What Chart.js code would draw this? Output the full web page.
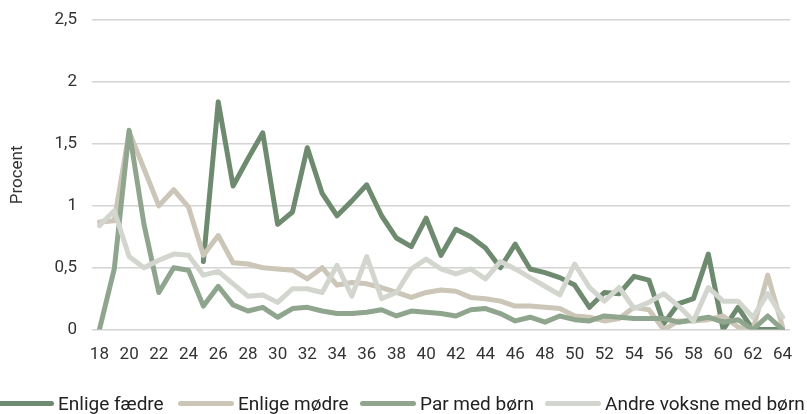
<!DOCTYPE html>
<html>
<head>
<meta charset="utf-8">
<script src="https://cdn.jsdelivr.net/npm/chart.js@4"></script>
<style>
  html, body { margin: 0; padding: 0; background: #fff; overflow: hidden; }
  #wrap { position: relative; width: 807px; height: 414px; overflow: hidden; }
  #chart { position: absolute; left: 0; top: -5px; }
  #legend {
    position: absolute; left: 0; top: 392px; width: 807px; height: 22px;
    font-family: Roboto, "Noto Sans", sans-serif; font-size: 19px; color: #222;
  }
  .item { position: absolute; top: 0; height: 22px; display: flex; align-items: center; white-space: nowrap; }
  .swatch { width: 56px; height: 5px; border-radius: 3px; margin-right: 4px; }
</style>
</head>
<body>
<div id="wrap">
  <canvas id="chart" width="807" height="414"></canvas>
  <div id="legend"></div>
</div>
<script>
const ages = [];
for (let a = 18; a <= 64; a++) ages.push(a);

const seriesNames = ['Enlige fædre', 'Enlige mødre', 'Par med børn', 'Andre voksne med børn'];
const seriesColors = ['#6e8a6f', '#cbc6b8', '#8fa58e', '#d3d6cf'];

// ages 18-64
const enligeFaedre = [null, null, null, null, null, null, null, 0.55, 1.84, 1.16, 1.38, 1.59, 0.85, 0.95,
  1.47, 1.10, 0.92, 1.04, 1.17, 0.92, 0.74, 0.67, 0.90, 0.60, 0.81, 0.75, 0.66, 0.50, 0.69, 0.49,
  0.46, 0.42, 0.36, 0.18, 0.30, 0.29, 0.43, 0.40, 0.05, 0.21, 0.25, 0.61, 0.00, 0.18, 0.00, 0.00, 0.00];
const enligeMoedre = [0.87, 0.88, 1.60, 1.30, 1.00, 1.13, 0.99, 0.60, 0.76, 0.54, 0.53, 0.50, 0.49, 0.48,
  0.41, 0.50, 0.36, 0.38, 0.37, 0.34, 0.30, 0.26, 0.30, 0.32, 0.31, 0.26, 0.25, 0.23, 0.19, 0.19,
  0.18, 0.17, 0.11, 0.10, 0.07, 0.09, 0.18, 0.16, 0.00, 0.07, 0.07, 0.08, 0.11, 0.02, 0.00, 0.44, 0.02];
const parMedBoern = [0.00, 0.49, 1.61, 0.85, 0.30, 0.50, 0.48, 0.19, 0.35, 0.20, 0.15, 0.18, 0.10, 0.17,
  0.18, 0.15, 0.13, 0.13, 0.14, 0.16, 0.11, 0.15, 0.14, 0.13, 0.11, 0.16, 0.17, 0.13, 0.07, 0.10,
  0.06, 0.11, 0.08, 0.07, 0.11, 0.10, 0.09, 0.09, 0.09, 0.06, 0.08, 0.10, 0.06, 0.08, 0.00, 0.11, 0.00];
const andreVoksne = [0.84, 0.96, 0.59, 0.50, 0.56, 0.61, 0.60, 0.44, 0.47, 0.37, 0.27, 0.28, 0.22, 0.33,
  0.33, 0.30, 0.52, 0.27, 0.59, 0.25, 0.30, 0.49, 0.57, 0.49, 0.45, 0.49, 0.41, 0.55, 0.49, 0.42,
  0.35, 0.28, 0.53, 0.34, 0.23, 0.34, 0.17, 0.22, 0.29, 0.19, 0.07, 0.34, 0.23, 0.23, 0.10, 0.29, 0.10];

const yTicks = [0, 0.5, 1, 1.5, 2, 2.5];
const allData = [enligeFaedre, enligeMoedre, parMedBoern, andreVoksne];

const font = { family: 'Roboto, "Noto Sans", sans-serif', size: 17 };

const ctx = document.getElementById('chart').getContext('2d');
new Chart(ctx, {
  type: 'line',
  data: {
    labels: ages,
    datasets: allData.map((d, i) => ({
      label: seriesNames[i],
      data: d,
      borderColor: seriesColors[i],
      backgroundColor: seriesColors[i],
      borderWidth: 5,
      borderJoinStyle: 'round',
      borderCapStyle: 'round',
      pointRadius: 0,
      tension: 0,
      order: allData.length - i
    }))
  },
  options: {
    responsive: false,
    animation: false,
    layout: { padding: { top: 15, right: 17, bottom: 37, left: 0 } },
    plugins: { legend: { display: false }, tooltip: { enabled: false } },
    scales: {
      x: {
        offset: true,
        grid: { display: false },
        border: { display: false },
        ticks: {
          color: '#333', font: font, padding: 7, autoSkip: false, maxRotation: 0,
          callback: (v, i) => ages[i] % 2 === 0 ? String(ages[i]) : null
        }
      },
      y: {
        min: 0, max: 2.5,
        afterFit: s => { s.width = 92; },
        afterBuildTicks: s => { s.ticks = yTicks.map(v => ({ value: v })); },
        grid: { color: '#d4d4d4', lineWidth: 1.5, drawTicks: false },
        border: { display: false },
        ticks: {
          color: '#333', font: font, padding: 15,
          callback: v => String(v).replace('.', ',')
        },
        title: { display: true, text: 'Procent', color: '#333', font: font, padding: { top: 8, bottom: 4 } }
      }
    }
  }
});

// legend items laid out like the original (it runs off both edges)
const legendLeft = [-2, 178, 360, 545];
const legend = document.getElementById('legend');
seriesNames.forEach((name, i) => {
  const item = document.createElement('div');
  item.className = 'item';
  item.style.left = legendLeft[i] + 'px';
  const sw = document.createElement('div');
  sw.className = 'swatch';
  sw.style.background = seriesColors[i];
  const txt = document.createElement('span');
  txt.textContent = name;
  item.appendChild(sw);
  item.appendChild(txt);
  legend.appendChild(item);
});
</script>
</body>
</html>
